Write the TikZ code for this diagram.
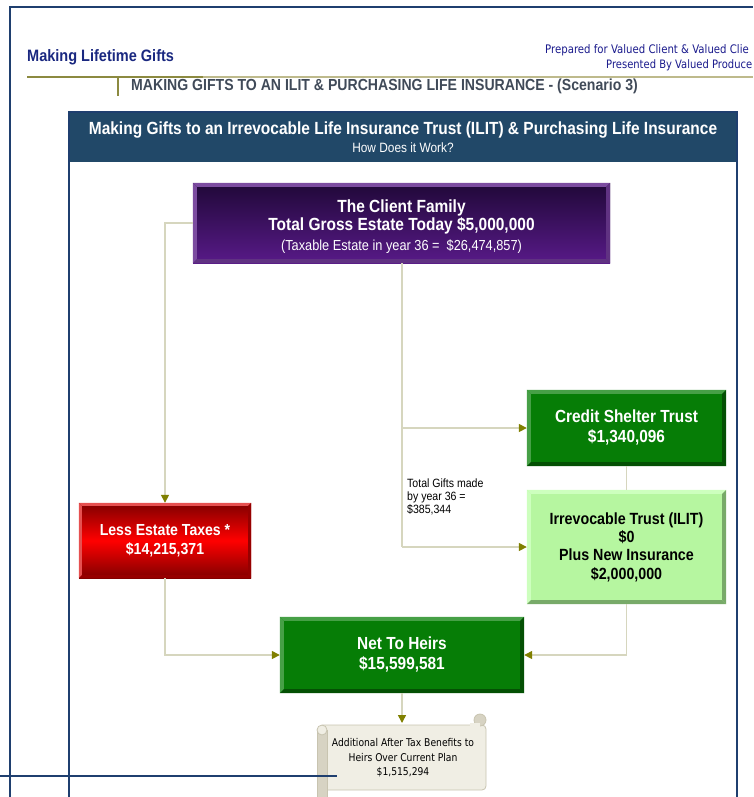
\documentclass[tikz,border=0pt]{standalone}
\usepackage{fontspec}
\setmainfont[FakeStretch=0.88]{Liberation Sans}
\newfontfamily\tahoma[FakeStretch=0.86]{DejaVu Sans}
\usetikzlibrary{arrows.meta,calc,positioning}
\definecolor{navy}{RGB}{31,63,111}
\definecolor{hdrblue}{RGB}{33,72,104}
\definecolor{titleblue}{RGB}{26,40,128}
\definecolor{prepblue}{RGB}{26,26,140}
\definecolor{subgray}{RGB}{64,74,88}
\definecolor{olivelight}{RGB}{190,186,140}
\definecolor{olivedark}{RGB}{140,138,64}
\definecolor{conn}{RGB}{214,214,190}
\definecolor{tipolive}{RGB}{128,128,0}
\definecolor{purpletop}{RGB}{32,8,56}
\definecolor{purplebot}{RGB}{88,26,136}
\definecolor{purplelt}{RGB}{124,76,160}
\definecolor{purpledk}{RGB}{96,50,130}
\definecolor{redtop}{RGB}{128,0,0}
\definecolor{redmid}{RGB}{255,0,0}
\definecolor{redlt}{RGB}{230,80,80}
\definecolor{reddk}{RGB}{150,0,0}
\definecolor{dgreen}{RGB}{6,125,6}
\definecolor{dgreenlt}{RGB}{70,160,70}
\definecolor{dgreendk}{RGB}{4,80,4}
\definecolor{lgreen}{RGB}{182,246,160}
\definecolor{lgreenlt}{RGB}{205,255,190}
\definecolor{lgreendk}{RGB}{120,170,105}
\definecolor{scrollfill}{RGB}{240,238,228}
\definecolor{scrolldraw}{RGB}{200,196,176}
\definecolor{scrolldk}{RGB}{215,211,195}
\tikzset{
  boxbase/.style={rectangle, inner sep=0pt, align=center, font=\bfseries\fontsize{17.5}{20}\selectfont},
  purplebox/.style={boxbase, top color=purpletop, bottom color=purplebot, text=white},
  redbox/.style={boxbase, top color=redtop, bottom color=redtop, middle color=redmid, text=white},
  dgreenbox/.style={boxbase, fill=dgreen, text=white},
  lgreenbox/.style={boxbase, fill=lgreen, text=black},
  connector/.style={draw=conn, line width=1.5pt},
  arr/.style={connector, -{Triangle[length=8pt,width=8pt,color=tipolive]}},
  frameline/.style={draw=navy, line width=1.5pt}
}
\newcommand{\bevelbox}[4]{%
  \fill[#2] (#1.north west) -- (#1.north east) -- ([xshift=-#4,yshift=-#4]#1.north east) -- ([xshift=#4,yshift=-#4]#1.north west) -- cycle;
  \fill[#2] (#1.north west) -- (#1.south west) -- ([xshift=#4,yshift=#4]#1.south west) -- ([xshift=#4,yshift=-#4]#1.north west) -- cycle;
  \fill[#3] (#1.north east) -- (#1.south east) -- ([xshift=-#4,yshift=#4]#1.south east) -- ([xshift=-#4,yshift=-#4]#1.north east) -- cycle;
  \fill[#3] (#1.south west) -- (#1.south east) -- ([xshift=-#4,yshift=#4]#1.south east) -- ([xshift=#4,yshift=#4]#1.south west) -- cycle;
}
\begin{document}
\begin{tikzpicture}[x=1pt,y=-1pt]
\useasboundingbox (0,0) rectangle (753,797);
% outer frame
\draw[frameline] (10,797) -- (10,7) -- (753,7);
% header texts
\node[anchor=base west, text=titleblue, font=\bfseries\fontsize{16.5}{18}\selectfont, inner sep=0pt] (maintitle) at (27,62) {Making Lifetime Gifts};
\node[anchor=base west, text=prepblue, font=\tahoma\fontsize{11.8}{14}\selectfont, inner sep=0pt] (prep) at (545,54) {Prepared for Valued Client \& Valued Clie};
\node[anchor=base west, text=prepblue, font=\tahoma\fontsize{11.6}{14}\selectfont, inner sep=0pt] (pres) at (606,69) {Presented By Valued Produce};
\draw[draw=olivelight, line width=2pt] (27,77) -- (753,77);
\draw[draw=olivedark, line width=2pt] (27,77) -- (203,77);
\draw[draw=olivedark, line width=2pt] (118,77) -- (118,96);
\node[anchor=base west, text=subgray, font=\bfseries\fontsize{16}{18}\selectfont, inner sep=0pt] (scen) at (131,91) {MAKING GIFTS TO AN ILIT \& PURCHASING LIFE INSURANCE - (Scenario 3)};
% panel
\fill[hdrblue] (69,112) rectangle (737,162);
\draw[frameline] (69,800) -- (69,112) -- (737,112) -- (737,800);
\node[anchor=base, text=white, font=\bfseries\fontsize{17.6}{20}\selectfont, inner sep=0pt] (ptitle) at (403,134) {Making Gifts to an Irrevocable Life Insurance Trust (ILIT) \& Purchasing Life Insurance};
\node[anchor=base, text=white, font=\fontsize{13.5}{15}\selectfont, inner sep=0pt] (psub) at (403,152) {How Does it Work?};
% boxes
\node[purplebox, minimum width=417pt, minimum height=80pt] (client) at (401.5,223) {};
\bevelbox{client}{purplelt}{purpledk}{4pt}
\node[text=white, align=center, font=\bfseries\fontsize{17.6}{18.5}\selectfont, inner sep=0pt] (clientt) at (401.5,217) {The Client Family\\Total Gross Estate Today \$5,000,000};
\node[text=white, font=\fontsize{14.5}{16}\selectfont, inner sep=0pt] (clientsub) at (401.5,247) {(Taxable Estate in year 36 =\ \ \$26,474,857)};

\node[redbox, minimum width=172pt, minimum height=75pt] (red) at (165,540.5) {};
\bevelbox{red}{redlt}{reddk}{3pt}
\node[boxbase, text=white, font=\bfseries\fontsize{16}{18.5}\selectfont] at (red) {Less Estate Taxes *\\\$14,215,371};

\node[dgreenbox, minimum width=199pt, minimum height=76pt] (credit) at (626.5,428) {};
\bevelbox{credit}{dgreenlt}{dgreendk}{4pt}
\node[boxbase, text=white] at (credit) {Credit Shelter Trust\\\$1,340,096};

\node[lgreenbox, minimum width=199pt, minimum height=114pt] (ilit) at (626.5,547) {};
\bevelbox{ilit}{lgreenlt}{lgreendk}{4pt}
\node[boxbase, text=black, font=\bfseries\fontsize{16.2}{18.4}\selectfont] at (ilit) {Irrevocable Trust (ILIT)\\\$0\\Plus New Insurance\\\$2,000,000};

\node[dgreenbox, minimum width=244pt, minimum height=76pt] (net) at (402,655) {};
\bevelbox{net}{dgreenlt}{dgreendk}{4pt}
\node[boxbase, text=white] at (net) {Net To Heirs\\\$15,599,581};

% scroll
\coordinate (scrolltop) at (402,723);
\filldraw[fill=scrollfill, draw=scrolldraw, line width=0.8pt, rounded corners=4pt] (319,725) -- (486,725) -- (486,790) -- (319,790) -- cycle;
\filldraw[fill=scrolldk, draw=scrolldraw, line width=0.8pt] (317,730) -- (317,797) -- (327,797) -- (327,730);
\filldraw[fill=scrollfill, draw=scrolldraw, line width=0.8pt] (322,730) circle[radius=5pt];
\filldraw[fill=scrolldk, draw=scrolldraw, line width=0.8pt] (480,720) circle[radius=6pt];
\fill[scrollfill] (470,723) rectangle (480,732);
\node[font=\tahoma\fontsize{10.7}{14.5}\selectfont, align=center, inner sep=0pt] (scrolltext) at (403,758) {Additional After Tax Benefits to\\Heirs Over Current Plan\\\$1,515,294};
\draw[draw=navy, line width=1.5pt] (0,776) -- (337,776);

% gift label
\node[anchor=north west, align=left, font=\fontsize{12}{13}\selectfont, inner sep=0pt] (gifts) at (407,479) {Total Gifts made\\by year 36 =\\\$385,344};

% connectors
\coordinate (jl) at (165,223);
\coordinate (jc) at (402,428);
\coordinate (ji) at (402,547);
\draw[arr] (client.west) -- (jl) -- (red.north);
\draw[connector] (client.south -| jc) -- (ji);
\draw[arr] (jc) -- (credit.west);
\draw[arr] (ji) -- (ilit.west);
\draw[connector] (credit.south) -- (ilit.north);
\draw[arr] (red.south) |- (net.west);
\draw[arr] (ilit.south) |- (net.east);
\draw[arr] (net.south) -- (scrolltop);
\end{tikzpicture}
\end{document}
